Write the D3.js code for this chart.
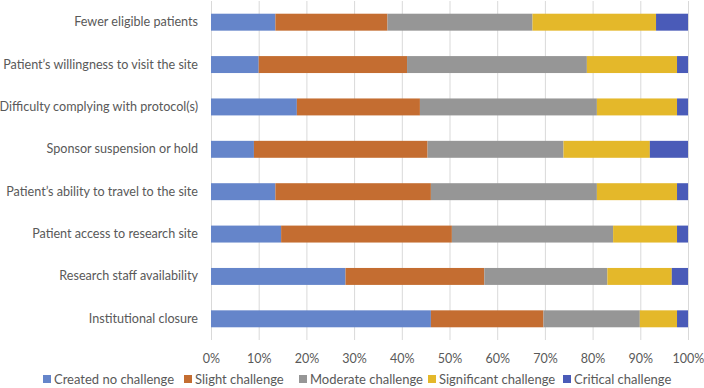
<!DOCTYPE html>
<html>
<head>
<meta charset="utf-8">
<script src="https://cdn.jsdelivr.net/npm/d3@7"></script>
<style>
  body { margin:0; background:#fff; }
  text { font-family: Lato, "Open Sans", sans-serif; fill:#595959; }
</style>
</head>
<body>
<svg id="chart"></svg>
<script>
// categories, top to bottom
var categories = [
  "Fewer eligible patients",
  "Patient\u2019s willingness to visit the site",
  "Difficulty complying with protocol(s)",
  "Sponsor suspension or hold",
  "Patient\u2019s ability to travel to the site",
  "Patient access to research site",
  "Research staff availability",
  "Institutional closure"
]

var seriesNames = ["Created no challenge","Slight challenge","Moderate challenge","Significant challenge","Critical challenge"]
var seriesColors = ["#6585CA","#C46D31","#969696","#E4B82A","#4A5BB8"]

// percent values, one array per series (same order as categories)
var noChallenge       = [13.5, 10.0, 18.0,  9.0, 13.5, 14.7, 28.2, 46.1]
var slightChallenge   = [23.5, 31.1, 25.8, 36.4, 32.6, 35.8, 29.1, 23.6]
var moderateChallenge = [30.4, 37.7, 37.1, 28.5, 34.8, 33.8, 25.8, 20.2]
var significantChallenge = [25.9, 18.9, 16.8, 18.1, 16.8, 13.4, 13.5, 7.8]
var criticalChallenge = [6.7, 2.3, 2.3, 8.0, 2.3, 2.3, 3.4, 2.3]

var tickValues = [0,10,20,30,40,50,60,70,80,90,100]

var screen = {width:704,height:388}
var margins = {left:211,right:16,top:1,bottom:48}
var graph = {
  width: screen.width-margins.left-margins.right,
  height: screen.height-margins.top-margins.bottom
}

var svg = d3.select("#chart")
  .attr("width",screen.width)
  .attr("height",screen.height)

var allSeries = [noChallenge,slightChallenge,moderateChallenge,significantChallenge,criticalChallenge]
var rows = categories.map(function(c,i){
  var r = {category:c}
  seriesNames.forEach(function(s,j){ r[s] = allSeries[j][i] })
  return r
})
var stacked = d3.stack().keys(seriesNames)(rows)

var xScale = d3.scaleLinear().domain([0,100]).range([0,graph.width])
var yScale = d3.scaleBand().domain(categories).range([0,graph.height]).paddingInner(0.6).paddingOuter(0.3)

var target = svg.append("g")
  .attr("transform","translate("+margins.left+","+margins.top+")")

// gridlines
target.append("g").selectAll("line")
  .data(tickValues)
  .enter().append("line")
  .attr("x1",function(d){return xScale(d)+0.5})
  .attr("x2",function(d){return xScale(d)+0.5})
  .attr("y1",0)
  .attr("y2",graph.height)
  .attr("stroke","#d9d9d9")
  .attr("stroke-width",1)

// bars
target.selectAll("g.series")
  .data(stacked)
  .enter().append("g")
  .classed("series",true)
  .attr("fill",function(d,i){return seriesColors[i]})
  .selectAll("rect")
  .data(function(d){return d})
  .enter().append("rect")
  .attr("x",function(d){return xScale(d[0])})
  .attr("width",function(d){return xScale(d[1])-xScale(d[0])})
  .attr("y",function(d){return yScale(d.data.category)})
  .attr("height",yScale.bandwidth())

// x axis
var xAxis = d3.axisBottom(xScale)
  .tickValues(tickValues)
  .tickFormat(function(d){return d+"%"})
  .tickSize(0)
  .tickPadding(14)
var xg = target.append("g")
  .attr("transform","translate(0,"+graph.height+")")
  .call(xAxis)
xg.select(".domain").remove()
xg.selectAll("text").style("font-size","12.5px").attr("fill","#595959")

// y axis
var yAxis = d3.axisLeft(yScale).tickSize(0).tickPadding(13)
var yg = target.append("g").call(yAxis)
yg.select(".domain").remove()
yg.selectAll("text").style("font-size","12.6px").attr("fill","#595959")

// legend
var legendX = [43, 184, 299, 428, 563]
var legend = svg.append("g")
  .attr("transform","translate(0,"+379+")")
var entries = legend.selectAll("g")
  .data(seriesNames)
  .enter().append("g")
  .attr("transform",function(d,i){return "translate("+legendX[i]+",0)"})
entries.append("rect")
  .attr("width",8)
  .attr("height",8)
  .attr("y",-4)
  .attr("fill",function(d,i){return seriesColors[i]})
entries.append("text")
  .text(function(d){return d})
  .attr("x",11)
  .attr("y",4.5)
  .style("font-size","13px")
</script>
</body>
</html>
